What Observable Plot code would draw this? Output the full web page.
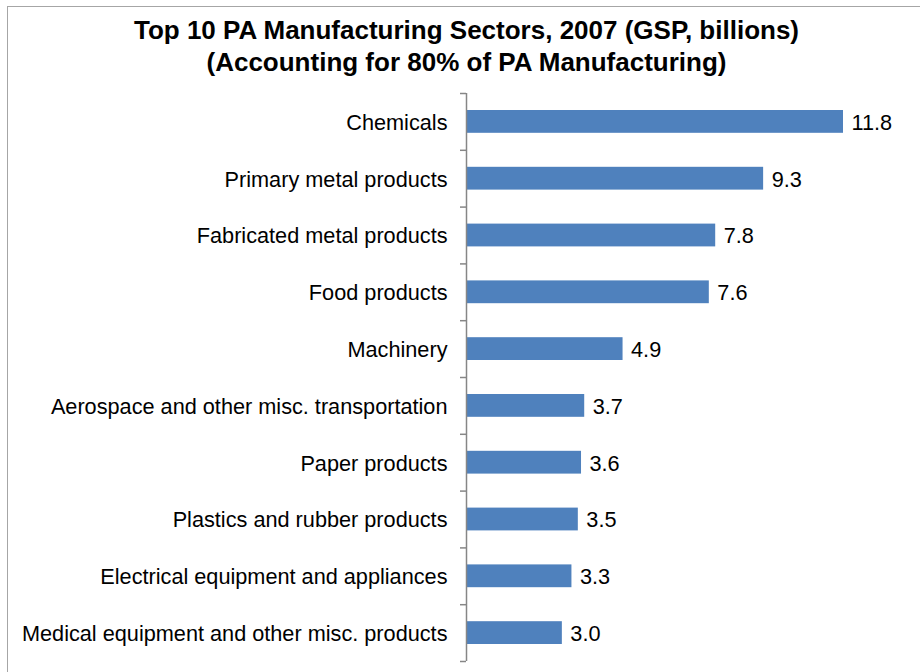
<!DOCTYPE html>
<html>
<head>
<meta charset="utf-8">
<script src="https://cdn.jsdelivr.net/npm/d3@7"></script>
<script src="https://cdn.jsdelivr.net/npm/@observablehq/plot@0.6"></script>
<style>
  html, body { margin: 0; padding: 0; background: #fff; overflow: hidden; width: 920px; height: 672px; }
  #frame { position: absolute; left: 7px; top: 6px; width: 980px; height: 720px; border: 1.5px solid #a6a6a6; box-sizing: border-box; }
  .title { position: absolute; font-family: "Liberation Sans", Arial, sans-serif; font-weight: bold; font-size: 26px; line-height: 26px; white-space: nowrap; color: #000; text-align: center; width: 900px; left: 16.5px; }
  #chart { position: absolute; left: 0; top: 0; }
</style>
</head>
<body>
<div id="frame"></div>
<div id="chart"></div>
<div class="title" id="t1" style="top:17px;">Top 10 PA Manufacturing Sectors, 2007 (GSP, billions)</div>
<div class="title" id="t2" style="top:49px;">(Accounting for 80% of PA Manufacturing)</div>
<script>
const sectors = [
  "Chemicals",
  "Primary metal products",
  "Fabricated metal products",
  "Food products",
  "Machinery",
  "Aerospace and other misc. transportation",
  "Paper products",
  "Plastics and rubber products",
  "Electrical equipment and appliances",
  "Medical equipment and other misc. products"
];
const values = [11.8, 9.3, 7.8, 7.6, 4.9, 3.7, 3.6, 3.5, 3.3, 3.0];

const data = sectors.map((s, i) => ({sector: s, value: values[i]}));

const W = 920, H = 672, mTop = 93, mBottom = 11;
const step = (H - mTop - mBottom) / sectors.length;

const chart = Plot.plot({
  width: W,
  height: H,
  marginLeft: 466,
  marginRight: 77,
  marginTop: mTop,
  marginBottom: mBottom,
  style: {fontFamily: "'Liberation Sans', Arial, sans-serif", fontSize: "21.7px", color: "#000", background: "transparent"},
  x: {domain: [0, 11.8], axis: null},
  y: {domain: sectors, padding: 0, round: false, axis: null, label: null},
  marks: [
    Plot.barX(data, {y: "sector", x: "value", fill: "#4F81BD", insetTop: 17, insetBottom: 17}),
    Plot.text(data, {y: "sector", x: "value", text: d => d.value.toFixed(1), textAnchor: "start", dx: 8, dy: 1, fontSize: 21.7, fill: "#000"}),
    Plot.axisY({tickSize: 0, tickPadding: 19, fontSize: 21.7, color: "#000", label: null, dy: 1}),
    Plot.axisY({tickSize: 6, tickFormat: null, label: null, dy: -step / 2, stroke: "#868686", strokeWidth: 1.5}),
    Plot.axisY({ticks: [sectors[sectors.length - 1]], tickSize: 6, tickFormat: null, label: null, dy: step / 2, stroke: "#868686", strokeWidth: 1.5}),
    Plot.ruleX([0], {stroke: "#868686", strokeWidth: 1.5})
  ]
});
document.getElementById("chart").appendChild(chart);
</script>
</body>
</html>
